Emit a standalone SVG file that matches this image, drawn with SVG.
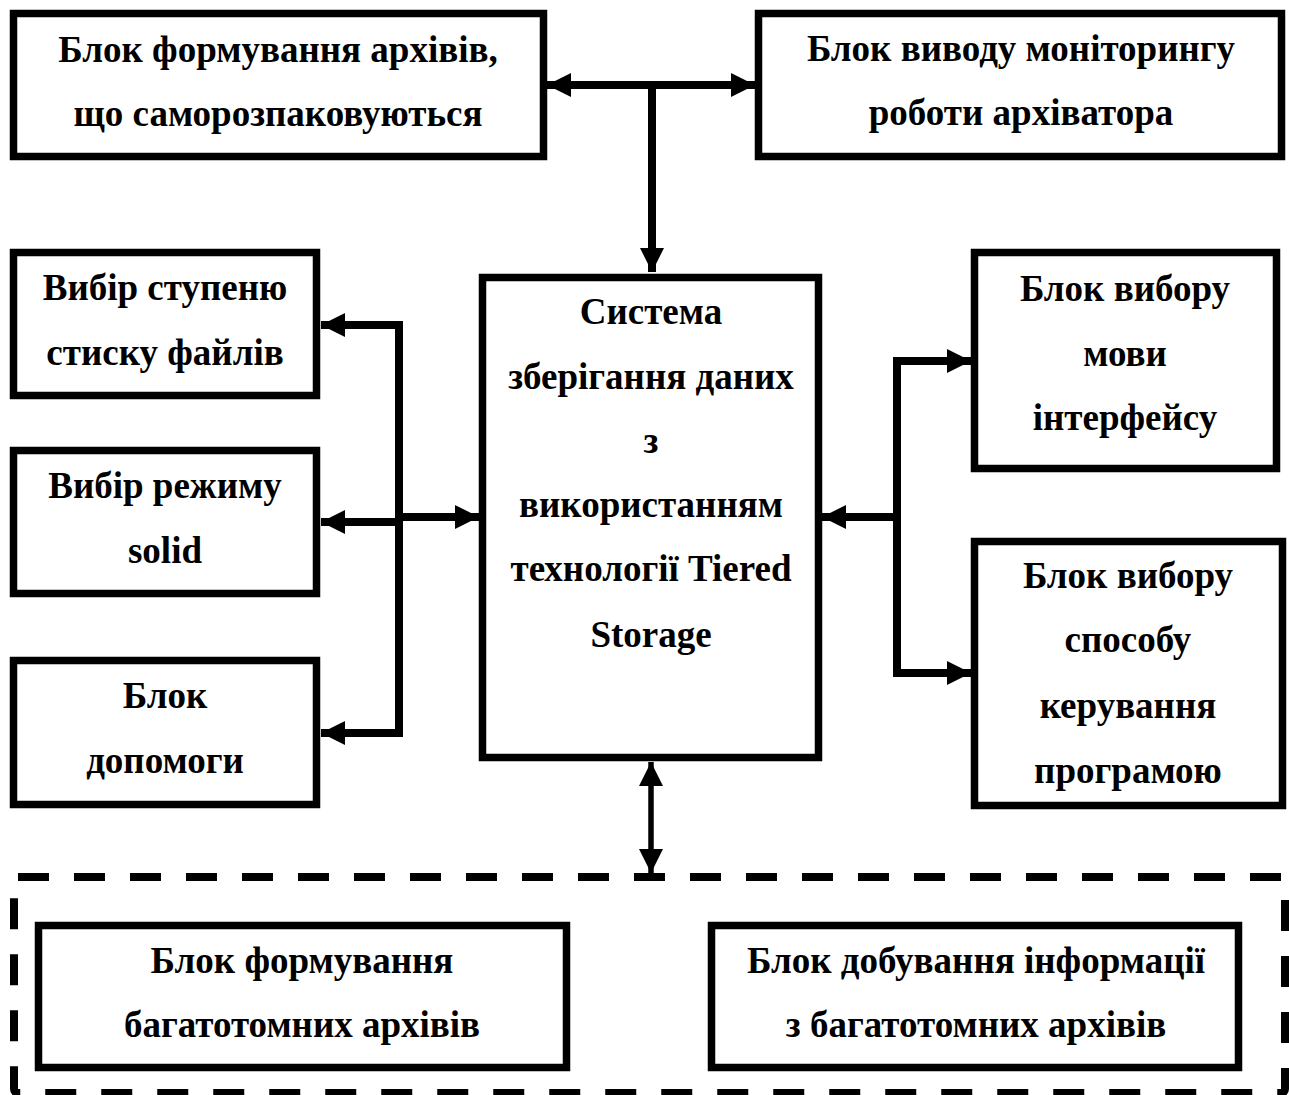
<svg xmlns="http://www.w3.org/2000/svg" width="1289" height="1095" viewBox="0 0 1289 1095">
<style>
.box{fill:#fff;stroke:#000;stroke-width:7.5}
.t{font-family:"Liberation Serif","Times New Roman",serif;font-weight:bold;font-size:37px;text-anchor:middle;fill:#000}
.c{fill:none;stroke:#000;stroke-width:8}
.c2{fill:none;stroke:#000;stroke-width:5.5}
.dash{fill:none;stroke:#000;stroke-width:8;stroke-dasharray:31 25}
</style>
<defs>
<marker id="ah" viewBox="0 0 24 24" refX="24" refY="12" markerWidth="24" markerHeight="24" markerUnits="userSpaceOnUse" orient="auto-start-reverse">
<path d="M0,0 L24,12 L0,24 Z" fill="#000"/>
</marker>
</defs>
<rect width="1289" height="1095" fill="#fff"/>

<g id="connectors">
<path class="c" d="M652,85 V272" marker-end="url(#ah)"/>
<path class="c" d="M547,85 H755" marker-start="url(#ah)" marker-end="url(#ah)"/>
<path class="c" d="M321,325 H399 V733 H321" marker-start="url(#ah)" marker-end="url(#ah)"/>
<path class="c" d="M321,522 H399" marker-start="url(#ah)"/>
<path class="c" d="M399,517 H479" marker-end="url(#ah)"/>
<path class="c" d="M971,361 H897 V673 H971" marker-start="url(#ah)" marker-end="url(#ah)"/>
<path class="c" d="M897,517 H822" marker-end="url(#ah)"/>
<path class="c2" d="M651,762 V873" marker-start="url(#ah)" marker-end="url(#ah)"/>
</g>

<g id="n-archive-sfx">
<rect class="box" x="13.5" y="13.5" width="530" height="143"/>
<text class="t" x="278" y="62">Блок формування архівів,</text>
<text class="t" x="278" y="126">що саморозпаковуються</text>
</g>

<g id="n-monitor">
<rect class="box" x="758.5" y="13.5" width="523" height="143"/>
<text class="t" x="1021" y="61">Блок виводу моніторингу</text>
<text class="t" x="1021" y="125">роботи архіватора</text>
</g>

<g id="n-compress">
<rect class="box" x="13.5" y="252.5" width="303" height="143"/>
<text class="t" x="165" y="300">Вибір ступеню</text>
<text class="t" x="165" y="365">стиску файлів</text>
</g>

<g id="n-solid">
<rect class="box" x="13.5" y="450.5" width="303" height="143"/>
<text class="t" x="165" y="498">Вибір режиму</text>
<text class="t" x="165" y="563">solid</text>
</g>

<g id="n-help">
<rect class="box" x="13.5" y="660.5" width="303" height="144"/>
<text class="t" x="165" y="708">Блок</text>
<text class="t" x="165" y="773">допомоги</text>
</g>

<g id="n-system">
<rect class="box" x="482.5" y="277.5" width="336" height="480"/>
<text class="t" x="651" y="324">Система</text>
<text class="t" x="651" y="389">зберігання даних</text>
<text class="t" x="651" y="453">з</text>
<text class="t" x="651" y="517">використанням</text>
<text class="t" x="651" y="581">технології Tiered</text>
<text class="t" x="651" y="647">Storage</text>
</g>

<g id="n-lang">
<rect class="box" x="974.5" y="252.5" width="302" height="216"/>
<text class="t" x="1125" y="301">Блок вибору</text>
<text class="t" x="1125" y="366">мови</text>
<text class="t" x="1125" y="430">інтерфейсу</text>
</g>

<g id="n-control">
<rect class="box" x="974.5" y="541.5" width="308" height="264"/>
<text class="t" x="1128" y="588">Блок вибору</text>
<text class="t" x="1128" y="652">способу</text>
<text class="t" x="1128" y="718">керування</text>
<text class="t" x="1128" y="783">програмою</text>
</g>

<g id="n-multivolume-group">
<rect class="dash" x="14" y="877" width="1271" height="216" rx="4"/>
</g>

<g id="n-multi-create">
<rect class="box" x="38.5" y="925.5" width="528" height="142"/>
<text class="t" x="302" y="973">Блок формування</text>
<text class="t" x="302" y="1037">багатотомних архівів</text>
</g>

<g id="n-multi-extract">
<rect class="box" x="711.5" y="925.5" width="527" height="142"/>
<text class="t" x="976" y="973">Блок добування інформації</text>
<text class="t" x="976" y="1037">з багатотомних архівів</text>
</g>
</svg>
